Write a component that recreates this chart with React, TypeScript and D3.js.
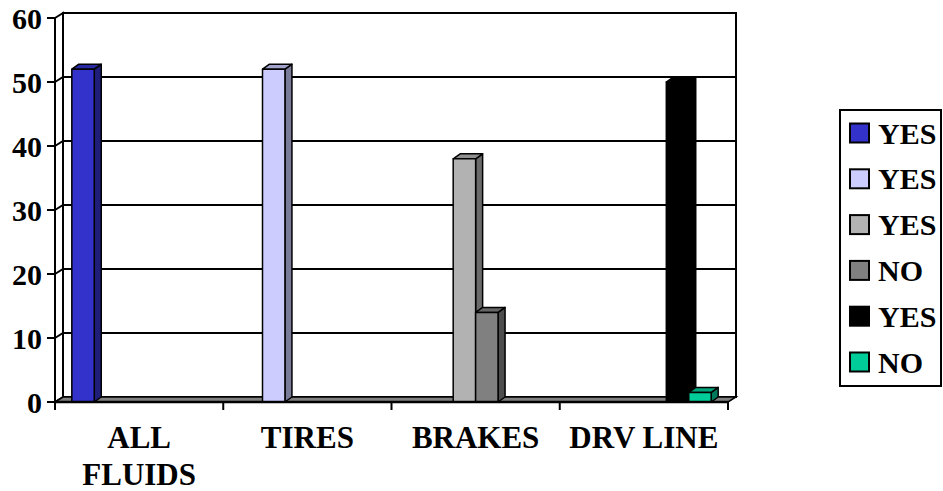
import React from "react";
import * as d3 from "d3";

const categories = ["ALL FLUIDS", "TIRES", "BRAKES", "DRV LINE"];
const categoryLines = [["ALL", "FLUIDS"], ["TIRES"], ["BRAKES"], ["DRV LINE"]];
const seriesNames = ["YES", "YES", "YES", "NO", "YES", "NO"];
const series1 = [52, null, null, null];
const series2 = [null, 52, null, null];
const series3 = [null, null, 38, null];
const series4 = [null, null, 14, null];
const series5 = [null, null, null, 50];
const series6 = [null, null, null, 1.5];
const seriesValues = [series1, series2, series3, series4, series5, series6];
const yTicks = [0, 10, 20, 30, 40, 50, 60];

const frontColors = ["#3333CC", "#CCCCFF", "#B2B2B2", "#808080", "#000000", "#00CC99"];
const topColors = ["#2929A3", "#A3A3CC", "#8F8F8F", "#666666", "#000000", "#00A37A"];
const sideColors = ["#1F1F7A", "#7A7A99", "#6B6B6B", "#4D4D4D", "#000000", "#007A5C"];

const W = 943;
const H = 491;
const FONT = "'Liberation Serif', 'Times New Roman', serif";

export default function App() {
  const left = 55;
  const right = 728;
  const top = 18;
  const bottom = 402;
  const dx = 8;
  const dy = -5;
  const bdx = 7;

  const x = d3.scaleBand<string>().domain(categories).range([left, right]).paddingInner(0).paddingOuter(0);
  const inner = d3
    .scaleBand<number>()
    .domain(d3.range(seriesValues.length))
    .range([0, x.bandwidth()])
    .paddingInner(0)
    .paddingOuter(0.75);
  const y = d3.scaleLinear().domain([0, 60]).range([bottom, top]);

  const bw = inner.bandwidth();

  const bars: React.ReactNode[] = [];
  seriesValues.forEach((vals, si) => {
    vals.forEach((v, ci) => {
      if (v == null) return;
      const x0 = (x(categories[ci]) as number) + (inner(si) as number);
      const x1 = x0 + bw;
      const yt = y(v);
      const front = `M${x0},${yt}L${x1},${yt}L${x1},${bottom}L${x0},${bottom}Z`;
      const side = `M${x1},${yt}L${x1 + bdx},${yt + dy}L${x1 + bdx},${bottom + dy}L${x1},${bottom}Z`;
      const topF = `M${x0},${yt}L${x0 + bdx},${yt + dy}L${x1 + bdx},${yt + dy}L${x1},${yt}Z`;
      bars.push(
        <g key={`b${si}-${ci}`} stroke="#000" strokeWidth={1.5} strokeLinejoin="round">
          <path d={side} fill={sideColors[si]} />
          <path d={topF} fill={topColors[si]} />
          <path d={front} fill={frontColors[si]} />
        </g>
      );
    });
  });

  const legendX = 840;
  const legendY = 110;
  const legendW = 101;
  const legendH = 276;
  const legendStep = 45.8;
  const fs = 30;
  const catFs = 31;

  return (
    <svg
      width={W}
      height={H}
      style={{ position: "fixed", left: 0, top: 0, background: "#fff" }}
      fontFamily={FONT}
    >
      <rect x={0} y={0} width={W} height={H} fill="#fff" />
      {/* left side wall */}
      <path
        d={`M${left},${top}L${left + dx},${top + dy}L${left + dx},${bottom + dy}L${left},${bottom}Z`}
        fill="#fff"
        stroke="#000"
        strokeWidth={2}
      />
      {/* back wall */}
      <rect
        x={left + dx}
        y={top + dy}
        width={right - left}
        height={bottom - top}
        fill="#fff"
        stroke="#000"
        strokeWidth={2}
      />
      {/* gridlines */}
      {yTicks.filter((t) => t > 0 && t < 60).map((t) => (
        <g key={`g${t}`} stroke="#000" strokeWidth={2} fill="none">
          <path d={`M${left},${y(t)}L${left + dx},${y(t) + dy}L${right + dx},${y(t) + dy}`} />
        </g>
      ))}
      {/* floor */}
      <path
        d={`M${left},${bottom}L${left + dx},${bottom + dy}L${right + dx},${bottom + dy}L${right},${bottom}Z`}
        fill="#808080"
        stroke="#000"
        strokeWidth={1.5}
      />
      {bars}
      {/* front axes */}
      <line x1={left} y1={top} x2={left} y2={bottom} stroke="#000" strokeWidth={2} />
      <line x1={left} y1={bottom} x2={right} y2={bottom} stroke="#000" strokeWidth={2.5} />
      {yTicks.map((t) => (
        <g key={`yt${t}`}>
          <line x1={left - 8} y1={y(t)} x2={left} y2={y(t)} stroke="#000" strokeWidth={2} />
          <text
            x={42}
            y={y(t)}
            dy="0.35em"
            textAnchor="end"
            fontSize={fs}
            fontWeight="bold"
            fill="#000"
          >
            {t}
          </text>
        </g>
      ))}
      {d3.range(categories.length + 1).map((i) => {
        const xx = left + i * x.bandwidth();
        return <line key={`xt${i}`} x1={xx} y1={bottom} x2={xx} y2={bottom + 8} stroke="#000" strokeWidth={2} />;
      })}
      {categories.map((c, ci) => (
        <text
          key={`c${ci}`}
          x={(x(c) as number) + x.bandwidth() / 2}
          y={448}
          textAnchor="middle"
          fontSize={catFs}
          fontWeight="bold"
          fill="#000"
        >
          {categoryLines[ci].map((ln, li) => (
            <tspan key={li} x={(x(c) as number) + x.bandwidth() / 2} dy={li === 0 ? 0 : 37}>
              {ln}
            </tspan>
          ))}
        </text>
      ))}
      {/* legend */}
      <rect x={legendX} y={legendY} width={legendW} height={legendH} fill="#fff" stroke="#000" strokeWidth={2} />
      {seriesNames.map((n, i) => {
        const cy = 133 + i * legendStep;
        return (
          <g key={`l${i}`}>
            <rect x={850} y={cy - 9.5} width={19} height={19} fill={frontColors[i]} stroke="#000" strokeWidth={2} />
            <text x={878} y={cy} dy="0.35em" fontSize={fs} fontWeight="bold" fill="#000">
              {n}
            </text>
          </g>
        );
      })}
    </svg>
  );
}
